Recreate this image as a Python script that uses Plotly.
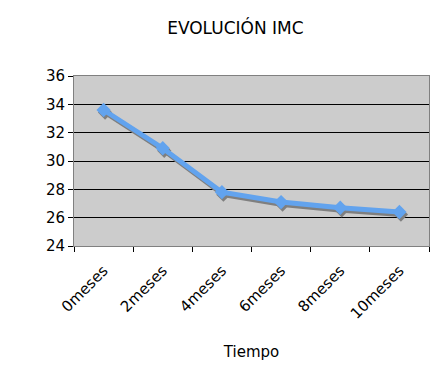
import plotly.graph_objects as go

meses = ["0meses", "2meses", "4meses", "6meses", "8meses", "10meses"]
imc = [33.6, 30.9, 27.8, 27.1, 26.7, 26.4]
y_ticks = [24, 26, 28, 30, 32, 34, 36]

BLUE = "#62A3EE"
SHADOW = "#7f7f7f"
FONT = "DejaVu Sans"

# plot area geometry (pixels) used only to convert the shadow offset
plot_w = 355
plot_h = 170
dx_px, dy_px = 1.5, 2.5
n = len(meses)
dx = dx_px * n / plot_w
dy = dy_px * (y_ticks[-1] - y_ticks[0]) / plot_h

fig = go.Figure()
fig.add_trace(go.Scatter(x=meses, y=imc, mode="lines", opacity=0,
                         hoverinfo="skip", showlegend=False))
fig.add_trace(go.Scatter(x=meses, y=imc, mode="lines+markers", xaxis="x2", yaxis="y2",
                         line=dict(color=SHADOW, width=5),
                         marker=dict(symbol="diamond", size=11, color=SHADOW),
                         showlegend=False))
fig.add_trace(go.Scatter(x=meses, y=imc, mode="lines+markers", xaxis="x3", yaxis="y3",
                         line=dict(color=BLUE, width=5),
                         marker=dict(symbol="diamond", size=11, color=BLUE),
                         showlegend=False))

yr = [y_ticks[0], y_ticks[-1]]
xr = [-0.5, n - 0.5]
fig.update_layout(
    width=440, height=380,
    margin=dict(l=74, r=11, t=76, b=134),
    paper_bgcolor="white",
    plot_bgcolor="#cccccc",
    font=dict(family=FONT, color="black"),
    title=dict(text="EVOLUCIÓN IMC", x=0.535, xanchor="center", y=0.925, yanchor="middle",
               font=dict(size=17, family=FONT, color="black")),
    xaxis=dict(type="category", categoryarray=meses, range=xr,
               tickson="boundaries", ticks="outside", ticklen=5, tickcolor="black",
               tickangle=-45, tickfont=dict(size=15, family=FONT), ticklabelstandoff=9,
               showgrid=False, showline=True, linecolor="#808080", linewidth=1, mirror=True,
               title=dict(text="Tiempo", font=dict(size=15, family=FONT), standoff=24),
               zeroline=False),
    yaxis=dict(range=yr, tickvals=y_ticks, ticks="outside", ticklen=5, tickcolor="black",
               tickfont=dict(size=15, family=FONT),
               showgrid=True, gridcolor="black", gridwidth=1,
               showline=True, linecolor="#808080", linewidth=1, mirror=True, zeroline=False),
    xaxis2=dict(type="category", categoryarray=meses, range=[xr[0] - dx, xr[1] - dx],
                overlaying="x", visible=False),
    yaxis2=dict(range=[yr[0] + dy, yr[1] + dy], overlaying="y", visible=False),
    xaxis3=dict(type="category", categoryarray=meses, range=xr, overlaying="x", visible=False),
    yaxis3=dict(range=yr, overlaying="y", visible=False),
)

fig.write_html("out.html")
